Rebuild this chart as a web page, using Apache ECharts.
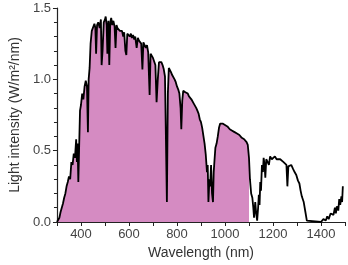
<!DOCTYPE html>
<html>
<head>
<meta charset="utf-8">
<script src="https://cdn.jsdelivr.net/npm/echarts@6/dist/echarts.min.js"></script>
<style>
  html, body { margin: 0; padding: 0; background: #fff; }
  #chart { width: 348px; height: 265px; }
</style>
</head>
<body>
<div id="chart"></div>
<script>
// wavelength (nm) and light intensity (W/m2/nm)
const wavelength = [
  300, 305, 310, 315, 320, 325, 330, 335, 340, 345, 350, 355, 360, 365, 370, 375, 380, 383, 386, 389, 392, 396,
  400, 405, 410, 415, 420, 425, 429, 432, 436, 440, 445, 450, 456, 460, 463, 467, 472, 478, 483, 486, 490, 495,
  500, 503, 507, 510, 514, 518, 522, 526, 530, 535, 540, 544, 548, 552, 557, 562, 566, 571, 576, 580, 585, 589, 593,
  598, 603, 608, 612, 617, 622, 626, 632, 637, 642, 647, 651, 656, 660, 665, 670, 675, 680, 686, 690, 695,
  700, 705, 710, 715, 720, 725, 730, 735, 740, 745, 750, 758, 762, 766, 770, 775, 780, 785, 790, 795,
  800, 805, 810, 815, 818, 822, 826, 830, 835, 840, 845, 850, 855, 860, 865, 870, 875, 880, 885, 890, 895,
  900, 905, 910, 915, 920, 925, 928, 931, 935, 938, 942, 946, 950, 953, 957, 960, 965, 970, 975, 980, 985, 990,
  1000, 1010, 1020, 1030, 1040, 1050, 1060, 1070, 1080, 1090, 1095, 1100,
  1104, 1109, 1114, 1118, 1121, 1126, 1130, 1134, 1138, 1141, 1144, 1147, 1150, 1154, 1158, 1161, 1165, 1168,
  1172, 1178, 1183, 1188, 1195, 1200, 1208, 1215, 1222, 1230, 1236, 1244, 1250, 1256, 1260, 1264, 1270, 1276,
  1284, 1290, 1297, 1304, 1310, 1315, 1320, 1328, 1335, 1341, 1345,
  1400, 1410, 1420, 1426, 1432, 1440, 1446, 1452, 1458, 1462, 1466, 1472, 1476, 1480, 1485, 1488, 1491
];
const intensity = [
  0.00, 0.00, 0.03, 0.07, 0.10, 0.13, 0.17, 0.20, 0.25, 0.28, 0.32, 0.30, 0.42, 0.40, 0.48, 0.45, 0.58, 0.42, 0.55, 0.28, 0.50, 0.78,
  0.82, 0.90, 0.86, 0.95, 0.99, 0.95, 0.63, 1.00, 1.08, 1.25, 1.34, 1.33, 1.39, 1.36, 1.18, 1.38, 1.40, 1.36, 1.42, 1.10, 1.20, 1.40,
  1.42, 1.44, 1.38, 1.18, 1.41, 1.10, 1.40, 1.43, 1.38, 1.41, 1.37, 1.22, 1.38, 1.36, 1.37, 1.34, 1.35, 1.34, 1.30, 1.33, 1.20, 1.17, 1.32,
  1.32, 1.30, 1.32, 1.29, 1.31, 1.28, 1.30, 1.22, 1.29, 1.27, 1.28, 1.25, 1.07, 1.26, 1.25, 1.22, 1.24, 1.19, 0.89, 1.18, 1.17,
  1.15, 1.14, 1.10, 0.84, 1.00, 1.12, 1.13, 1.12, 1.10, 1.07, 1.02, 0.14, 0.90, 1.08, 1.08, 1.05, 1.03, 1.02, 1.00, 0.98,
  0.95, 0.93, 0.90, 0.80, 0.65, 0.85, 0.92, 0.92, 0.91, 0.92, 0.90, 0.88, 0.89, 0.86, 0.85, 0.83, 0.82, 0.80, 0.78, 0.76, 0.72,
  0.70, 0.66, 0.67, 0.55, 0.47, 0.35, 0.40, 0.14, 0.30, 0.25, 0.40, 0.20, 0.14, 0.35, 0.45, 0.52, 0.55, 0.60, 0.66, 0.69, 0.70, 0.69,
  0.68, 0.67, 0.65, 0.64, 0.63, 0.62, 0.61, 0.59, 0.58, 0.56, 0.54, 0.45,
  0.30, 0.20, 0.17, 0.10, 0.03, 0.14, 0.06, 0.01, 0.10, 0.19, 0.12, 0.28, 0.22, 0.40, 0.35, 0.45, 0.40, 0.31,
  0.44, 0.45, 0.40, 0.46, 0.44, 0.45, 0.46, 0.44, 0.45, 0.44, 0.44, 0.42, 0.41, 0.40, 0.25, 0.39, 0.40, 0.40,
  0.37, 0.35, 0.33, 0.29, 0.27, 0.22, 0.18, 0.14, 0.07, 0.01, 0.00,
  0.00, 0.02, 0.01, 0.04, 0.02, 0.06, 0.07, 0.05, 0.10, 0.06, 0.11, 0.08, 0.16, 0.12, 0.18, 0.14, 0.25
];
const fillEnd = 1100; // pink area stops here
const xTicks = [400, 600, 800, 1000, 1200, 1400];

const spectrum = wavelength.map((w, i) => [w, intensity[i]]);
const filled = spectrum.filter(p => p[0] <= fillEnd);

const labelFont = 'Liberation Sans, Arial, sans-serif';
const myChart = echarts.init(document.getElementById('chart'), null, { renderer: 'canvas' });

const option = {
  animation: false,
  grid: { left: 50, right: 3, top: 8, bottom: 42 },
  xAxis: {
    type: 'value',
    min: 300,
    max: 1500,
    interval: 100,
    name: 'Wavelength (nm)',
    nameLocation: 'middle',
    nameGap: 24,
    nameTextStyle: { color: '#333', fontSize: 14, fontFamily: labelFont },
    axisLine: { lineStyle: { color: '#222', width: 1.2 } },
    axisTick: { show: true, length: 4, lineStyle: { color: '#222' } },
    axisLabel: {
      color: '#444', fontSize: 13, fontFamily: labelFont, margin: 6,
      formatter: v => (xTicks.includes(v) ? String(v) : '')
    },
    splitLine: { show: false }
  },
  yAxis: {
    type: 'value',
    min: 0,
    max: 1.5,
    interval: 0.5,
    name: 'Light intensity (W/m\u00b2/nm)',
    nameLocation: 'middle',
    nameGap: 34,
    nameTextStyle: { color: '#333', fontSize: 14, fontFamily: labelFont },
    axisLine: { show: true, lineStyle: { color: '#222', width: 1.2 } },
    axisTick: { show: true, length: 4, lineStyle: { color: '#222' } },
    minorTick: { show: true, splitNumber: 5, length: 3, lineStyle: { color: '#222' } },
    axisLabel: {
      color: '#444', fontSize: 13, fontFamily: labelFont, margin: 6,
      formatter: v => v.toFixed(1)
    },
    splitLine: { show: false }
  },
  series: [
    {
      type: 'line',
      data: filled,
      symbol: 'none',
      lineStyle: { width: 0 },
      areaStyle: { color: '#d58bc2', opacity: 1 },
      z: 1
    },
    {
      type: 'line',
      data: spectrum,
      symbol: 'none',
      lineStyle: { color: '#000', width: 1.8 },
      z: 2
    }
  ]
};

myChart.setOption(option);
</script>
</body>
</html>
